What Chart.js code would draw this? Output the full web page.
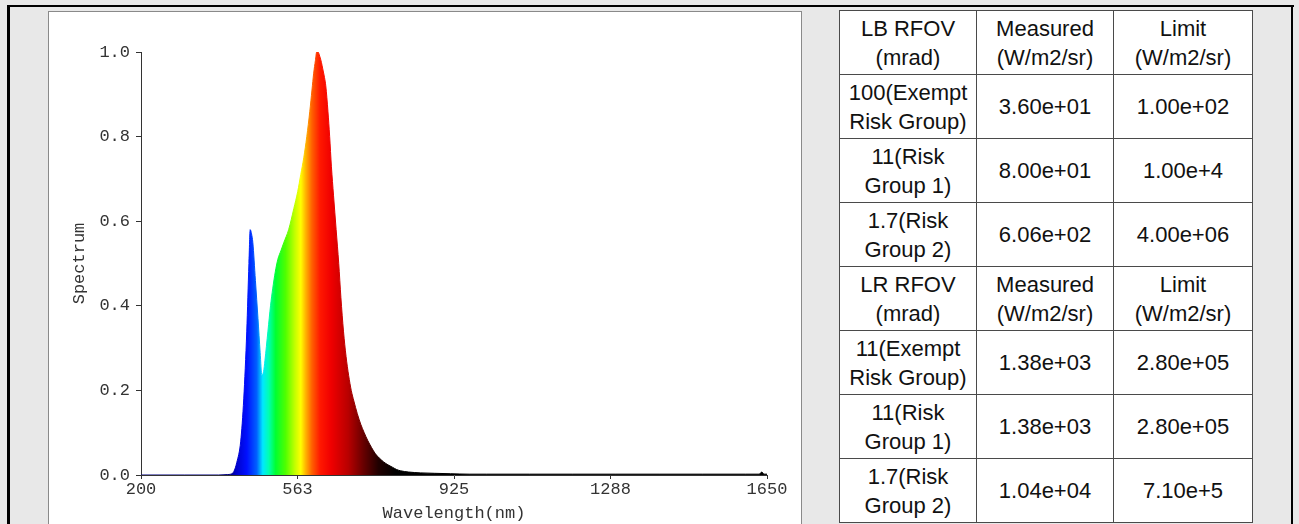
<!DOCTYPE html>
<html>
<head>
<meta charset="utf-8">
<script src="https://cdn.jsdelivr.net/npm/chart.js@4.4.0/dist/chart.umd.min.js"></script>
<style>
    body { margin: 0; width: 1299px; height: 524px; background: #e8e8e8; position: relative; overflow: hidden; font-family: "Liberation Sans", Arial, sans-serif; }
    .frame { position: absolute; background: #000; }
    #panel { position: absolute; left: 48px; top: 11px; width: 752px; height: 520px; background: #fff; border: 1px solid #8a8a8a; }
    #spectrumChart { position: absolute; left: 0; top: 0; }
    #rfovTable { position: absolute; left: 839px; top: 10px; border-collapse: collapse; background: #fff; }
    #rfovTable td { border: 1px solid #4a4a4a; text-align: center; vertical-align: middle; padding: 0; height: 63px; font-size: 22px; line-height: 29px; color: #111; }
</style>
</head>
<body>
<div class="frame" style="left:7px; top:5px; width:1287px; height:2px;"></div>
<div class="frame" style="left:7px; top:5px; width:3px; height:519px;"></div>
<div class="frame" style="left:1291px; top:5px; width:2px; height:519px;"></div>

<div id="panel">
    <canvas id="spectrumChart" width="752" height="512"></canvas>
</div>

<table id="rfovTable">
    <colgroup><col style="width:137px"><col style="width:137px"><col style="width:139px"></colgroup>
    <tbody id="tableBody"></tbody>
</table>

<script>
// Spektrum verisi (nm, bağıl değer)
const wavelengths = [200, 300, 380, 400, 408, 415, 422, 431, 438, 445, 450, 453, 456, 459, 465, 471, 476, 480, 484, 487, 494, 500, 505, 511, 517, 524, 531, 542, 554, 563, 570, 577, 584, 591, 596, 600, 604, 607, 610, 614, 618, 621, 625, 628, 633, 637, 641, 646, 652, 658, 663, 669, 675, 681, 687, 693, 701, 709, 717, 725, 734, 743, 752, 762, 772, 783, 792, 801, 820, 848, 880, 917, 960, 1000, 1100, 1200, 1300, 1400, 1500, 1600, 1632, 1638, 1643, 1650];
const spectrum = [0, 0, 0, 0.001, 0.002, 0.008, 0.03, 0.08, 0.18, 0.34, 0.50, 0.58, 0.57, 0.55, 0.46, 0.37, 0.29, 0.236, 0.245, 0.27, 0.34, 0.40, 0.44, 0.48, 0.51, 0.53, 0.55, 0.58, 0.63, 0.67, 0.71, 0.75, 0.80, 0.86, 0.91, 0.95, 0.98, 1.0, 1.0, 0.99, 0.975, 0.96, 0.94, 0.92, 0.86, 0.80, 0.73, 0.66, 0.58, 0.50, 0.42, 0.34, 0.28, 0.235, 0.20, 0.175, 0.145, 0.12, 0.10, 0.082, 0.065, 0.05, 0.04, 0.031, 0.024, 0.018, 0.013, 0.01, 0.007, 0.005, 0.004, 0.003, 0.002, 0.002, 0.002, 0.002, 0.002, 0.002, 0.002, 0.002, 0.002, 0.007, 0.002, 0.002];

const xTickValues = [200, 562.5, 925, 1287.5, 1650];
const xTickLabels = ['200', '563', '925', '1288', '1650'];
const yTickValues = [0, 0.2, 0.4, 0.6, 0.8, 1.0];

// Tablo verisi
const tableCol1 = ['LB RFOV<br>(mrad)', '100(Exempt<br>Risk Group)', '11(Risk<br>Group 1)', '1.7(Risk<br>Group 2)', 'LR RFOV<br>(mrad)', '11(Exempt<br>Risk Group)', '11(Risk<br>Group 1)', '1.7(Risk<br>Group 2)'];
const tableMeasured = ['Measured<br>(W/m2/sr)', '3.60e+01', '8.00e+01', '6.06e+02', 'Measured<br>(W/m2/sr)', '1.38e+03', '1.38e+03', '1.04e+04'];
const tableLimit = ['Limit<br>(W/m2/sr)', '1.00e+02', '1.00e+4', '4.00e+06', 'Limit<br>(W/m2/sr)', '2.80e+05', '2.80e+05', '7.10e+5'];

const tbody = document.getElementById('tableBody');
tableCol1.forEach((c, i) => {
    const tr = document.createElement('tr');
    [c, tableMeasured[i], tableLimit[i]].forEach(t => {
        const td = document.createElement('td');
        td.innerHTML = t;
        tr.appendChild(td);
    });
    tbody.appendChild(tr);
});

// Renk geçişi (dalga boyu -> renk)
const rainbowStops = [
    [405, '#000080'], [420, '#0000c8'], [445, '#0010ff'], [468, '#0060ff'],
    [482, '#00e8ff'], [496, '#00ffb0'], [512, '#00ff30'], [535, '#50ff00'],
    [556, '#c0ff00'], [570, '#ffff00'], [582, '#ffb000'], [596, '#ff6000'],
    [615, '#ff1800'], [640, '#f00000'], [680, '#b80000'], [715, '#680000'],
    [750, '#200000'], [790, '#000000']
];

function spectrumFill(context) {
    const chart = context.chart;
    const {ctx, chartArea, scales} = chart;
    if (!chartArea) return '#000';
    const x0 = scales.x.getPixelForValue(400);
    const x1 = scales.x.getPixelForValue(800);
    const g = ctx.createLinearGradient(x0, 0, x1, 0);
    rainbowStops.forEach(s => {
        g.addColorStop(Math.min(1, Math.max(0, (s[0] - 400) / 400)), s[1]);
    });
    return g;
}

const monoFont = {family: '"Liberation Mono", "Courier New", monospace', size: 17};
const axisColor = '#333';

new Chart(document.getElementById('spectrumChart'), {
    type: 'line',
    data: {
        datasets: [{
            data: wavelengths.map((w, i) => ({x: w, y: spectrum[i]})),
            fill: 'origin',
            backgroundColor: spectrumFill,
            borderColor: spectrumFill,
            borderWidth: 1,
            pointRadius: 0,
            cubicInterpolationMode: 'monotone'
        }]
    },
    options: {
        responsive: false,
        animation: false,
        layout: {padding: {left: 0, right: 34, top: 40, bottom: 0}},
        plugins: {
            legend: {display: false},
            tooltip: {enabled: false}
        },
        scales: {
            x: {
                type: 'linear',
                min: 200,
                max: 1650,
                afterBuildTicks: function(scale) {
                    scale.ticks = xTickValues.map(v => ({value: v}));
                },
                afterFit: function(scale) { scale.height = 49; },
                ticks: {
                    autoSkip: false,
                    maxRotation: 0,
                    padding: 0,
                    color: axisColor,
                    font: monoFont,
                    callback: function(value, index) { return xTickLabels[index]; }
                },
                grid: {display: true, drawOnChartArea: false, drawTicks: true, tickLength: 4, color: axisColor},
                border: {display: true, color: axisColor},
                title: {display: true, text: 'Wavelength(nm)', color: axisColor, font: monoFont, padding: {top: 0, bottom: 0}}
            },
            y: {
                min: 0,
                max: 1,
                afterBuildTicks: function(scale) {
                    scale.ticks = yTickValues.map(v => ({value: v}));
                },
                afterFit: function(scale) { scale.width = 92; },
                ticks: {
                    padding: 6,
                    color: axisColor,
                    font: monoFont,
                    callback: function(value) { return value.toFixed(1); }
                },
                grid: {display: true, drawOnChartArea: false, drawTicks: true, tickLength: 5, color: axisColor},
                border: {display: true, color: axisColor},
                title: {display: true, text: 'Spectrum', color: axisColor, font: monoFont, padding: {top: 20, bottom: 0}}
            }
        }
    }
});
</script>
</body>
</html>
